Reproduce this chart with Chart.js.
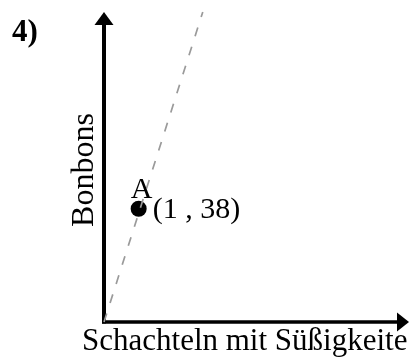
<!DOCTYPE html>
<html>
<head>
<meta charset="utf-8">
<script src="https://cdn.jsdelivr.net/npm/chart.js@4"></script>
<style>
  html, body { margin: 0; padding: 0; background: #fff; }
  #wrap { width: 417px; height: 358px; }
</style>
</head>
<body>
<div id="wrap"><canvas id="c" width="417" height="358"></canvas></div>
<script>
// ---- data ----
const chartTag = '4)';
const xAxisTitle = 'Schachteln mit Süßigkeite';
const yAxisTitle = 'Bonbons';
const pointNames = ['A'];
const pointX = [1];
const pointY = [38];
const lineX = [0, 2.85];
const lineY = [0, 104];
const xRange = [0, 8.8];
const yRange = [0, 104];

const SERIF = '"Liberation Serif", "Times New Roman", serif';

const axesPlugin = {
  id: 'axesArrows',
  beforeDatasetsDraw(chart) {
    const ctx = chart.ctx;
    const xs = chart.scales.x, ys = chart.scales.y;
    const ox = xs.getPixelForValue(0), oy = ys.getPixelForValue(0);
    const xEnd = xs.getPixelForValue(xRange[1]);
    const yEnd = ys.getPixelForValue(yRange[1]);
    ctx.save();
    ctx.fillStyle = '#000';
    ctx.strokeStyle = '#000';
    ctx.lineCap = 'butt';
    // y axis
    ctx.lineWidth = 4;
    ctx.beginPath();
    ctx.moveTo(ox, oy + 1.5);
    ctx.lineTo(ox, yEnd + 12);
    ctx.stroke();
    ctx.beginPath();
    ctx.moveTo(ox, yEnd);
    ctx.lineTo(ox - 9.5, yEnd + 13);
    ctx.lineTo(ox + 9.5, yEnd + 13);
    ctx.closePath();
    ctx.fill();
    // x axis
    ctx.lineWidth = 3.5;
    ctx.beginPath();
    ctx.moveTo(ox - 2, oy);
    ctx.lineTo(xEnd - 10, oy);
    ctx.stroke();
    ctx.beginPath();
    ctx.moveTo(xEnd, oy);
    ctx.lineTo(xEnd - 12, oy - 9.5);
    ctx.lineTo(xEnd - 12, oy + 9.5);
    ctx.closePath();
    ctx.fill();
    ctx.restore();
  },
  afterDraw(chart) {
    const ctx = chart.ctx;
    const xs = chart.scales.x, ys = chart.scales.y;
    ctx.save();
    ctx.fillStyle = '#000';
    ctx.textAlign = 'left';
    ctx.textBaseline = 'alphabetic';
    // tag
    ctx.font = 'bold 31px ' + SERIF;
    ctx.fillText(chartTag, 12, 41);
    // x title
    ctx.font = '31px ' + SERIF;
    ctx.fillText(xAxisTitle, 82, 350);
    // y title
    ctx.save();
    ctx.translate(93, 170);
    ctx.rotate(-Math.PI / 2);
    ctx.textAlign = 'center';
    ctx.font = '32px ' + SERIF;
    ctx.fillText(yAxisTitle, 0, 0);
    ctx.restore();
    // point labels
    ctx.font = '30px ' + SERIF;
    for (let i = 0; i < pointX.length; i++) {
      const px = xs.getPixelForValue(pointX[i]);
      const py = ys.getPixelForValue(pointY[i]);
      ctx.fillText(pointNames[i], px - 8, py - 11);
      ctx.fillText('(' + pointX[i] + ' , ' + pointY[i] + ')', px + 14, py + 9);
    }
    ctx.restore();
  }
};

new Chart(document.getElementById('c'), {
  type: 'scatter',
  data: {
    datasets: [
      {
        data: lineX.map((x, i) => ({ x: x, y: lineY[i] })),
        showLine: true,
        borderColor: '#9a9a9a',
        borderWidth: 1.7,
        borderDash: [9, 11],
        pointRadius: 0,
        fill: false,
        clip: false
      },
      {
        data: pointX.map((x, i) => ({ x: x, y: pointY[i] })),
        showLine: false,
        pointRadius: 8,
        pointBackgroundColor: '#000',
        pointBorderColor: '#000',
        pointBorderWidth: 0,
        clip: false
      }
    ]
  },
  options: {
    responsive: false,
    devicePixelRatio: 1,
    animation: false,
    layout: { padding: { left: 104, right: 4, top: 12, bottom: 36 } },
    plugins: { legend: { display: false }, tooltip: { enabled: false }, title: { display: false } },
    scales: {
      x: { type: 'linear', min: xRange[0], max: xRange[1], display: false },
      y: { type: 'linear', min: yRange[0], max: yRange[1], display: false }
    }
  },
  plugins: [axesPlugin]
});
</script>
</body>
</html>
